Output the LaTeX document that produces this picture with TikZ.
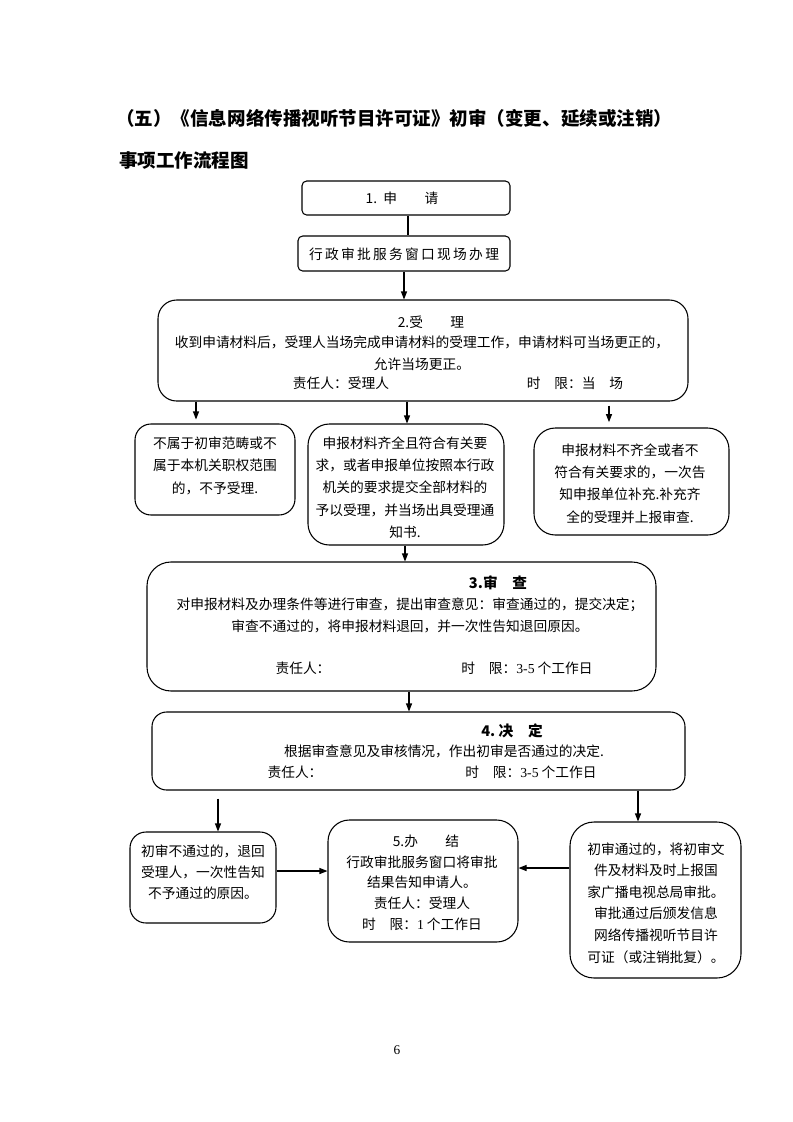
\documentclass[tikz,border=0pt]{standalone}
\usepackage{fontspec}
\setmainfont{Noto Sans CJK SC}
\newfontfamily\serifnum{Liberation Serif}
\usetikzlibrary{fit,arrows.meta}
\begin{document}
\begin{tikzpicture}[x=0.75pt,y=-0.75pt,
  box/.style={draw, line width=0.8pt, inner sep=0pt},
  txt/.style={font=\fontsize{10.3}{15.5}\selectfont, align=center, inner sep=0pt},
  head/.style={font=\fontsize{11}{13}\selectfont\bfseries, inner sep=0pt},
  ttl/.style={font=\fontsize{13.9}{16}\selectfont\bfseries, inner sep=0pt, anchor=west},
  arr/.style={line width=0.8pt, -{Triangle[length=6pt,width=4.5pt]}},
  ln/.style={line width=0.8pt}]
\useasboundingbox (0,0) rectangle (793,1122);
% titles
\node[ttl] (t1) at (116,118) {（五）《信息网络传播视听节目许可证》初审（变更、延续或注销）};
\node[ttl] (t2) at (119,160) {事项工作流程图};
% boxes
\node[box, rounded corners=3.5pt, fit={(302,181) (510,215)}] (b1) {};
\node[box, rounded corners=3.5pt, fit={(298,236) (510,271)}] (b1w) {};
\node[box, rounded corners=14pt, fit={(158,300) (688,401)}] (b2) {};
\node[box, rounded corners=12pt, fit={(135,424) (295,515)}] (ba) {};
\node[box, rounded corners=16pt, fit={(308,424) (504,545)}] (bb) {};
\node[box, rounded corners=16pt, fit={(534,428) (729,535)}] (bc) {};
\node[box, rounded corners=18pt, fit={(147,562) (656,691)}] (b3) {};
\node[box, rounded corners=11pt, fit={(152,712) (685,790)}] (b4) {};
\node[box, rounded corners=12pt, fit={(130,832) (276,923)}] (b5a) {};
\node[box, rounded corners=16pt, fit={(328,820) (518,942)}] (b5) {};
\node[box, rounded corners=18pt, fit={(570,822) (741,978)}] (b5c) {};
% texts
\node[txt] (x1) at (402,198) {1.\ \ 申\qquad 请};
\node[txt] (x1w) at (404,254) {行\,政\,审\,批\,服\,务\,窗\,口\,现\,场\,办\,理};
\node[txt] (x2h) at (431,322) {2.受\qquad 理};
\node[txt] (x2a) at (422,342) {收到申请材料后，受理人当场完成申请材料的受理工作，申请材料可当场更正的，};
\node[txt] (x2b) at (422,364) {允许当场更正。};
\node[txt] (x2c) at (341,383) {责任人：受理人};
\node[txt] (x2d) at (575,383) {时\quad 限：当\quad 场};
\node[txt, font=\fontsize{10.3}{16.9}\selectfont] (xa) at (215,465.5) {不属于初审范畴或不\\属于本机关职权范围\\的，不予受理.};
\node[txt, font=\fontsize{10.3}{16.7}\selectfont] (xb) at (405,487.5) {申报材料齐全且符合有关要\\求，或者申报单位按照本行政\\机关的要求提交全部材料的\\予以受理，并当场出具受理通\\知书.};
\node[txt, font=\fontsize{10.3}{16.7}\selectfont] (xc) at (630,483.5) {申报材料不齐全或者不\\符合有关要求的，一次告\\知申报单位补充.补充齐\\全的受理并上报审查.};
\node[head] (x3h) at (498,583) {3.审\quad 查};
\node[txt, font=\fontsize{10.3}{16.5}\selectfont] (x3a) at (410,615) {对申报材料及办理条件等进行审查，提出审查意见：审查通过的，提交决定；\\审查不通过的，将申报材料退回，并一次性告知退回原因。};
\node[txt] (x3b) at (303,668) {责任人：};
\node[txt] (x3c) at (527,668) {时\quad 限：{\serifnum 3-5} 个工作日};
\node[head] (x4h) at (512,731) {4.\ 决\quad 定};
\node[txt] (x4a) at (444,751) {根据审查意见及审核情况，作出初审是否通过的决定.};
\node[txt] (x4b) at (295,772) {责任人：};
\node[txt] (x4c) at (531,772) {时\quad 限：{\serifnum 3-5} 个工作日};
\node[txt, font=\fontsize{10.3}{15.75}\selectfont] (x5a) at (203,872) {初审不通过的，退回\\受理人，一次性告知\\不予通过的原因。};
\node[txt] (x5h) at (426,841) {5.办\qquad 结};
\node[txt, font=\fontsize{10.3}{15.5}\selectfont] (x5) at (422,893) {行政审批服务窗口将审批\\结果告知申请人。\\责任人：受理人\\时\quad 限：{\serifnum 1} 个工作日};
\node[txt, font=\fontsize{10.3}{16.2}\selectfont] (x5c) at (656,903) {初审通过的，将初审文\\件及材料及时上报国\\家广播电视总局审批。\\审批通过后颁发信息\\网络传播视听节目许\\可证（或注销批复）。};
\node[inner sep=0pt, font=\serifnum\fontsize{10}{12}\selectfont] (pg) at (397,1050) {6};
% connectors
\draw[ln] ([xshift=1.5pt]b1.south) -- ([xshift=3pt]b1w.north);
\draw[arr] (b1w.south) -- ([xshift=-14.25pt]b2.north);
\draw[arr] ([xshift={-227*0.75pt}]b2.south) -- ([xshift={-19*0.75pt},yshift=3pt]ba.north);
\draw[arr] ([xshift={-16*0.75pt}]b2.south) -- ([xshift={1*0.75pt}]bb.north);
\draw[arr] ([xshift={186*0.75pt},yshift=-3pt]b2.south) -- ([xshift={-22.5*0.75pt},yshift=4pt]bc.north);
\draw[arr] ([xshift={-1*0.75pt}]bb.south) -- ([xshift={3.5*0.75pt}]b3.north);
\draw[arr] ([xshift={7.5*0.75pt}]b3.south) -- ([xshift={-9.5*0.75pt}]b4.north);
\draw[arr] ([xshift={-200.5*0.75pt},yshift=-6pt]b4.south) -- ([xshift={15*0.75pt}]b5a.north);
\draw[arr] ([xshift={219.5*0.75pt}]b4.south) -- ([xshift={-17.5*0.75pt}]b5c.north);
\draw[arr] ([yshift={6.5*0.75pt}]b5a.east) -- ([yshift={10*0.75pt}]b5.west);
\draw[arr] ([yshift={32*0.75pt}]b5c.west) -- ([yshift={13*0.75pt}]b5.east);
\end{tikzpicture}
\end{document}
